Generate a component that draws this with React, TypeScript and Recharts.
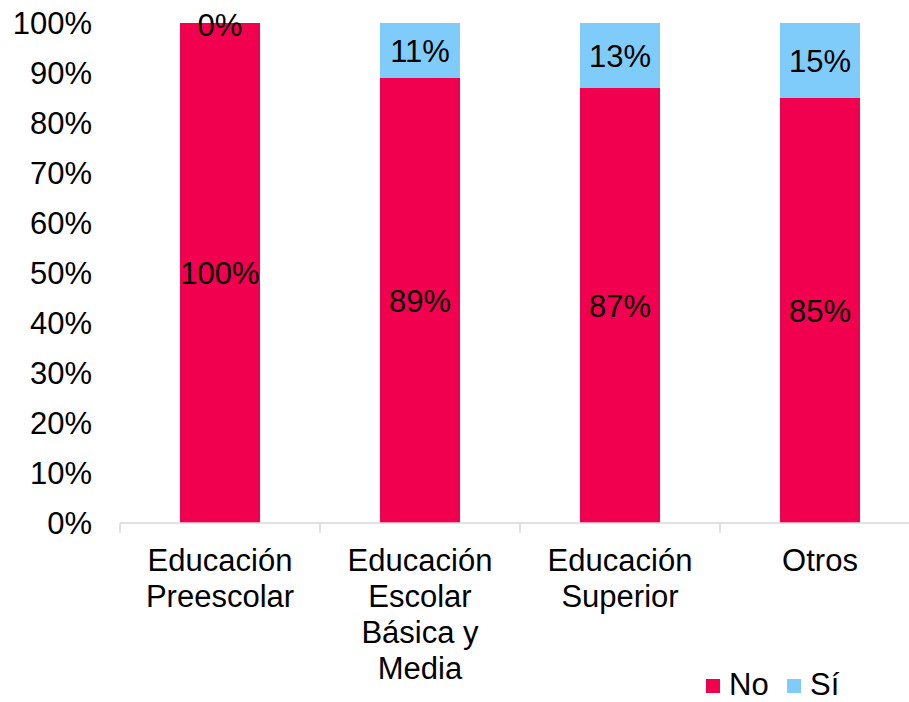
import { Bar, BarChart, LabelList, XAxis, YAxis } from 'recharts';

const categories = ['Educación Preescolar', 'Educación Escolar Básica y Media', 'Educación Superior', 'Otros'];
const tickLines: Record<string, string[]> = {
  'Educación Preescolar': ['Educación', 'Preescolar'],
  'Educación Escolar Básica y Media': ['Educación', 'Escolar', 'Básica y', 'Media'],
  'Educación Superior': ['Educación', 'Superior'],
  Otros: ['Otros'],
};
const noValues = [100, 89, 87, 85];
const siValues = [0, 11, 13, 15];
const yTicks = [0, 10, 20, 30, 40, 50, 60, 70, 80, 90, 100];

const PINK = '#F20050';
const BLUE = '#7FCCFA';
const FONT = '"Liberation Sans", Arial, sans-serif';
const FS = 31;

const data = categories.map((c, i) => ({ name: c, no: noValues[i], si: siValues[i] }));

const BAND = 200;

function CatTick(props: any) {
  const { x, y, payload, index } = props;
  const lines = tickLines[payload.value] || [payload.value];
  const axisY = y - 8;
  return (
    <g>
      <line x1={x - BAND / 2} x2={x - BAND / 2} y1={axisY} y2={axisY + 10} stroke="#D9D9D9" strokeWidth={1.5} />
      {index === categories.length - 1 && (
        <line x1={x + BAND / 2} x2={x + BAND / 2} y1={axisY} y2={axisY + 10} stroke="#D9D9D9" strokeWidth={1.5} />
      )}
      <text textAnchor="middle" fontFamily={FONT} fontSize={FS} fill="#000">
        {lines.map((l, i) => (
          <tspan key={i} x={x} y={axisY + 48 + i * 36}>
            {l}
          </tspan>
        ))}
      </text>
    </g>
  );
}

// "0%" for the empty Sí segment, drawn at the top of the No bar
function ZeroSiLabel(props: any) {
  const { x, y, width, index } = props;
  if (siValues[index] !== 0) return null;
  return (
    <text x={x + width / 2} y={y + 2} textAnchor="middle" dominantBaseline="central" fontFamily={FONT} fontSize={FS} fill="#000">
      {`${siValues[index]}%`}
    </text>
  );
}

function LegendBox() {
  const items = [
    { label: 'No', color: PINK },
    { label: 'Sí', color: BLUE },
  ];
  return (
    <svg style={{ position: 'absolute', left: 700, top: 660 }} width={200} height={42}>
      {items.map((it, i) => {
        const x0 = 6 + i * 81;
        return (
          <g key={it.label}>
            <rect x={x0} y={19} width={14} height={14} fill={it.color} />
            <text x={x0 + 23} y={35} fontFamily={FONT} fontSize={FS} fill="#000">
              {it.label}
            </text>
          </g>
        );
      })}
    </svg>
  );
}

export default function App() {
  return (
    <div style={{ position: 'absolute', left: 0, top: 0, width: 909, height: 702, overflow: 'hidden', background: '#fff' }}>
      <BarChart
        width={930}
        height={702}
        data={data}
        margin={{ top: 23, right: 10, left: 0, bottom: 0 }}
        barCategoryGap={60}
      >
        <YAxis
          width={120}
          domain={[0, 100]}
          ticks={yTicks}
          interval={0}
          axisLine={false}
          tickLine={false}
          tickSize={0}
          tickMargin={28}
          tickFormatter={(v: number) => `${v}%`}
          tick={{ fill: '#000', fontSize: FS, fontFamily: FONT }}
        />
        <XAxis
          dataKey="name"
          height={179}
          interval={0}
          tickLine={false}
          tickSize={0}
          tickMargin={8}
          axisLine={{ stroke: '#D9D9D9', strokeWidth: 1.5 }}
          tick={<CatTick />}
        />
        <Bar dataKey="no" stackId="a" fill={PINK} barSize={80} isAnimationActive={false}>
          <LabelList
            dataKey="no"
            position="center"
            formatter={(v: number) => `${v}%`}
            fill="#000"
            fontSize={FS}
            fontFamily={FONT}
          />
          <LabelList dataKey="si" content={<ZeroSiLabel />} />
        </Bar>
        <Bar dataKey="si" stackId="a" fill={BLUE} barSize={80} isAnimationActive={false}>
          <LabelList
            dataKey="si"
            position="center"
            formatter={(v: number) => `${v}%`}
            fill="#000"
            fontSize={FS}
            fontFamily={FONT}
          />
        </Bar>
      </BarChart>
      <LegendBox />
    </div>
  );
}
